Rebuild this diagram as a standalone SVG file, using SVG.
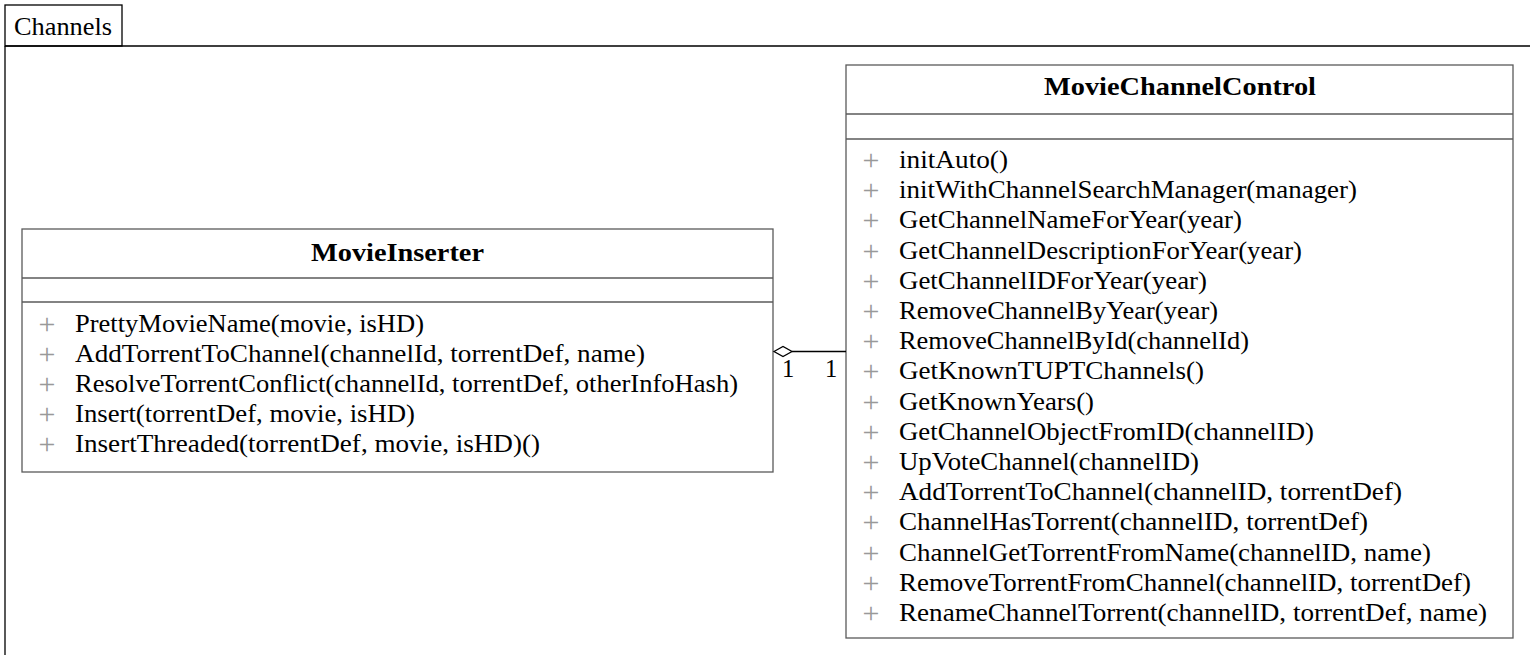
<svg xmlns="http://www.w3.org/2000/svg" width="1530" height="655" viewBox="0 0 1530 655">
<style>
.t{font-family:"Liberation Serif","Times New Roman",serif;font-size:24.5px;fill:#000}
.b{font-weight:bold}
.p{font-family:"Liberation Serif","Times New Roman",serif;font-size:30px;fill:#999;text-anchor:middle}
.box{fill:#fff;stroke:#5a5a5a;stroke-width:1.3}
.sep{stroke:#5a5a5a;stroke-width:1.3}
.pkg{fill:none;stroke:#000;stroke-width:1.3}
.con{stroke:#000;stroke-width:1.3;fill:none}
</style>
<rect width="1530" height="655" fill="#fff"/>
<g id="package-Channels">
<rect class="pkg" x="5" y="5" width="117" height="41"/>
<path class="pkg" d="M5,46 H1530 M5,46 V655"/>
<text class="t" x="14" y="35" textLength="98" lengthAdjust="spacingAndGlyphs">Channels</text>
</g>
<g id="MovieInserter">
<rect class="box" x="22" y="229" width="751" height="243"/>
<line class="sep" x1="22" y1="278" x2="773" y2="278"/>
<line class="sep" x1="22" y1="302" x2="773" y2="302"/>
<text class="t b" x="311" y="261" textLength="173" lengthAdjust="spacingAndGlyphs">MovieInserter</text>
<text class="p" x="47" y="334">+</text>
<text class="p" x="47" y="364">+</text>
<text class="p" x="47" y="394">+</text>
<text class="p" x="47" y="424">+</text>
<text class="p" x="47" y="454">+</text>
<text class="t" x="75" y="332" textLength="349" lengthAdjust="spacingAndGlyphs">PrettyMovieName(movie, isHD)</text>
<text class="t" x="75" y="362" textLength="570" lengthAdjust="spacingAndGlyphs">AddTorrentToChannel(channelId, torrentDef, name)</text>
<text class="t" x="75" y="392" textLength="663" lengthAdjust="spacingAndGlyphs">ResolveTorrentConflict(channelId, torrentDef, otherInfoHash)</text>
<text class="t" x="75" y="422" textLength="340" lengthAdjust="spacingAndGlyphs">Insert(torrentDef, movie, isHD)</text>
<text class="t" x="75" y="452" textLength="465" lengthAdjust="spacingAndGlyphs">InsertThreaded(torrentDef, movie, isHD)()</text>
</g>
<g id="MovieChannelControl">
<rect class="box" x="846" y="65" width="667" height="573"/>
<line class="sep" x1="846" y1="114" x2="1513" y2="114"/>
<line class="sep" x1="846" y1="139" x2="1513" y2="139"/>
<text class="t b" x="1044" y="95" textLength="272" lengthAdjust="spacingAndGlyphs">MovieChannelControl</text>
<text class="p" x="871" y="170">+</text>
<text class="p" x="871" y="200">+</text>
<text class="p" x="871" y="230">+</text>
<text class="p" x="871" y="261">+</text>
<text class="p" x="871" y="291">+</text>
<text class="p" x="871" y="321">+</text>
<text class="p" x="871" y="351">+</text>
<text class="p" x="871" y="381">+</text>
<text class="p" x="871" y="412">+</text>
<text class="p" x="871" y="442">+</text>
<text class="p" x="871" y="472">+</text>
<text class="p" x="871" y="502">+</text>
<text class="p" x="871" y="532">+</text>
<text class="p" x="871" y="563">+</text>
<text class="p" x="871" y="593">+</text>
<text class="p" x="871" y="623">+</text>
<text class="t" x="899" y="168" textLength="109" lengthAdjust="spacingAndGlyphs">initAuto()</text>
<text class="t" x="899" y="198" textLength="458" lengthAdjust="spacingAndGlyphs">initWithChannelSearchManager(manager)</text>
<text class="t" x="899" y="228" textLength="343" lengthAdjust="spacingAndGlyphs">GetChannelNameForYear(year)</text>
<text class="t" x="899" y="259" textLength="403" lengthAdjust="spacingAndGlyphs">GetChannelDescriptionForYear(year)</text>
<text class="t" x="899" y="289" textLength="308" lengthAdjust="spacingAndGlyphs">GetChannelIDForYear(year)</text>
<text class="t" x="899" y="319" textLength="319" lengthAdjust="spacingAndGlyphs">RemoveChannelByYear(year)</text>
<text class="t" x="899" y="349" textLength="350" lengthAdjust="spacingAndGlyphs">RemoveChannelById(channelId)</text>
<text class="t" x="899" y="379" textLength="305" lengthAdjust="spacingAndGlyphs">GetKnownTUPTChannels()</text>
<text class="t" x="899" y="410" textLength="195" lengthAdjust="spacingAndGlyphs">GetKnownYears()</text>
<text class="t" x="899" y="440" textLength="415" lengthAdjust="spacingAndGlyphs">GetChannelObjectFromID(channelID)</text>
<text class="t" x="899" y="470" textLength="300" lengthAdjust="spacingAndGlyphs">UpVoteChannel(channelID)</text>
<text class="t" x="899" y="500" textLength="503" lengthAdjust="spacingAndGlyphs">AddTorrentToChannel(channelID, torrentDef)</text>
<text class="t" x="899" y="530" textLength="469" lengthAdjust="spacingAndGlyphs">ChannelHasTorrent(channelID, torrentDef)</text>
<text class="t" x="899" y="561" textLength="532" lengthAdjust="spacingAndGlyphs">ChannelGetTorrentFromName(channelID, name)</text>
<text class="t" x="899" y="591" textLength="572" lengthAdjust="spacingAndGlyphs">RemoveTorrentFromChannel(channelID, torrentDef)</text>
<text class="t" x="899" y="621" textLength="588" lengthAdjust="spacingAndGlyphs">RenameChannelTorrent(channelID, torrentDef, name)</text>
</g>
<g id="connectors">
<polygon class="con" points="774,351.5 783,346.5 792,351.5 783,356.5" fill="#fff"/>
<line class="con" x1="792" y1="351.5" x2="846" y2="351.5"/>
<text class="t" x="788" y="377" text-anchor="middle">1</text>
<text class="t" x="831" y="377" text-anchor="middle">1</text>
</g>
</svg>
